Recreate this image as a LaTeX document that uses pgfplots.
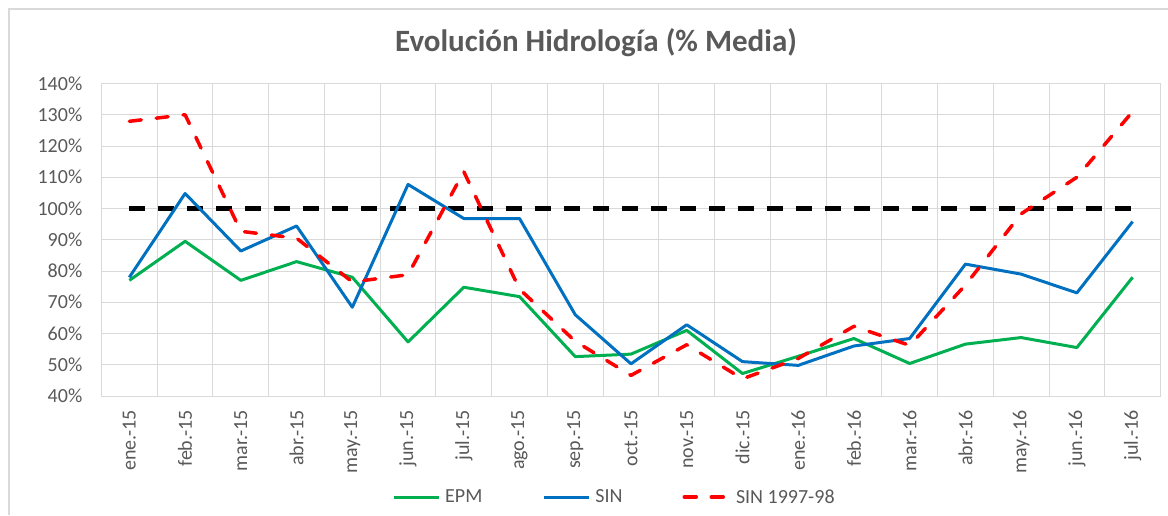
\documentclass[border=0pt]{standalone}
\usepackage{pgfplots}
\pgfplotsset{compat=1.18}
\usepackage{fontspec}
\setmainfont{Carlito}
\definecolor{txt}{HTML}{595959}
\definecolor{gridc}{HTML}{D9D9D9}
\definecolor{epm}{HTML}{00B050}
\definecolor{sin}{HTML}{0070C0}
\definecolor{sinr}{HTML}{FF0000}
\begin{document}
\begin{tikzpicture}[x=1pt,y=1pt]
\useasboundingbox (0,0) rectangle (1168,515);
\draw[draw=gridc, line width=1.2pt] (9,0) -- (9,506) -- (1168,506);
\node[font=\fontsize{31}{36}\selectfont\bfseries, text=txt] at (596,472) {Evolución Hidrología (\% Media)};
\begin{axis}[
  at={(101.5pt,119pt)}, anchor=south west,
  scale only axis, width=1059pt, height=312.5pt,
  xmin=-0.5, xmax=18.5, ymin=40, ymax=140,
  ytick={40,50,...,140},
  xtick={0,...,18},
  xticklabels={ene.-15,feb.-15,mar.-15,abr.-15,may.-15,jun.-15,jul.-15,ago.-15,sep.-15,oct.-15,nov.-15,dic.-15,ene.-16,feb.-16,mar.-16,abr.-16,may.-16,jun.-16,jul.-16},
  minor xtick={-0.5,0.5,...,18.5},
  xminorgrids, ymajorgrids,
  grid style={draw=gridc, line width=1pt},
  minor grid style={draw=gridc, line width=1pt},
  axis line style={draw=gridc, line width=1pt},
  major tick style={draw=none}, minor tick style={draw=none},
  /pgf/number format/assume math mode=true,
  yticklabel={\pgfmathprintnumber{\tick}\%},
  tick label style={font=\fontsize{20}{24}\selectfont, text=txt, inner sep=0pt},
  x tick label style={rotate=90, anchor=east},
  y tick label style={anchor=east},
  xticklabel shift=14pt,
  yticklabel shift=19pt,
  legend columns=3,
  legend style={at={(0.2743,-0.3232)}, anchor=west, draw=none, fill=none, inner sep=0pt,
    font=\fontsize{20}{24}\selectfont, text=txt,
    nodes={inner sep=0pt},
    /tikz/every odd column/.append style={column sep=5pt},
    /tikz/every even column/.append style={column sep=60pt}},
  legend image code/.code={\draw[#1] (0pt,0pt) -- (45pt,0pt);},
]
\addplot[black, line width=4.8pt, dash pattern=on 16pt off 13pt, forget plot] coordinates {(0,100) (18,100)};
\addplot[epm, line width=3pt, line join=round] coordinates {
(0,77) (1,89.5) (2,77) (3,83) (4,78) (5,57.3) (6,74.8) (7,71.8) (8,52.6) (9,53.4)
(10,61) (11,47.2) (12,52.7) (13,58.4) (14,50.4) (15,56.6) (16,58.7) (17,55.5) (18,78)};
\addlegendentry{EPM}
\addplot[sin, line width=3pt, line join=round] coordinates {
(0,78) (1,104.8) (2,86.4) (3,94.4) (4,68.4) (5,107.7) (6,96.8) (7,96.8) (8,66) (9,50.3)
(10,62.8) (11,51) (12,49.8) (13,56) (14,58.4) (15,82.2) (16,79) (17,73) (18,95.8)};
\addlegendentry{SIN}
\addplot[sinr, line width=3.5pt, line cap=round, line join=round, dash pattern=on 12pt off 15pt] coordinates {
(0,127.9) (1,130) (2,92.7) (3,90.5) (4,76.5) (5,78.8) (6,111.8) (7,74.2) (8,57.5) (9,46.6)
(10,56.4) (11,45.5) (12,52) (13,62.3) (14,56.2) (15,75.5) (16,98.3) (17,110) (18,131)};
\addlegendentry{SIN 1997-98}
\end{axis}
\end{tikzpicture}
\end{document}
